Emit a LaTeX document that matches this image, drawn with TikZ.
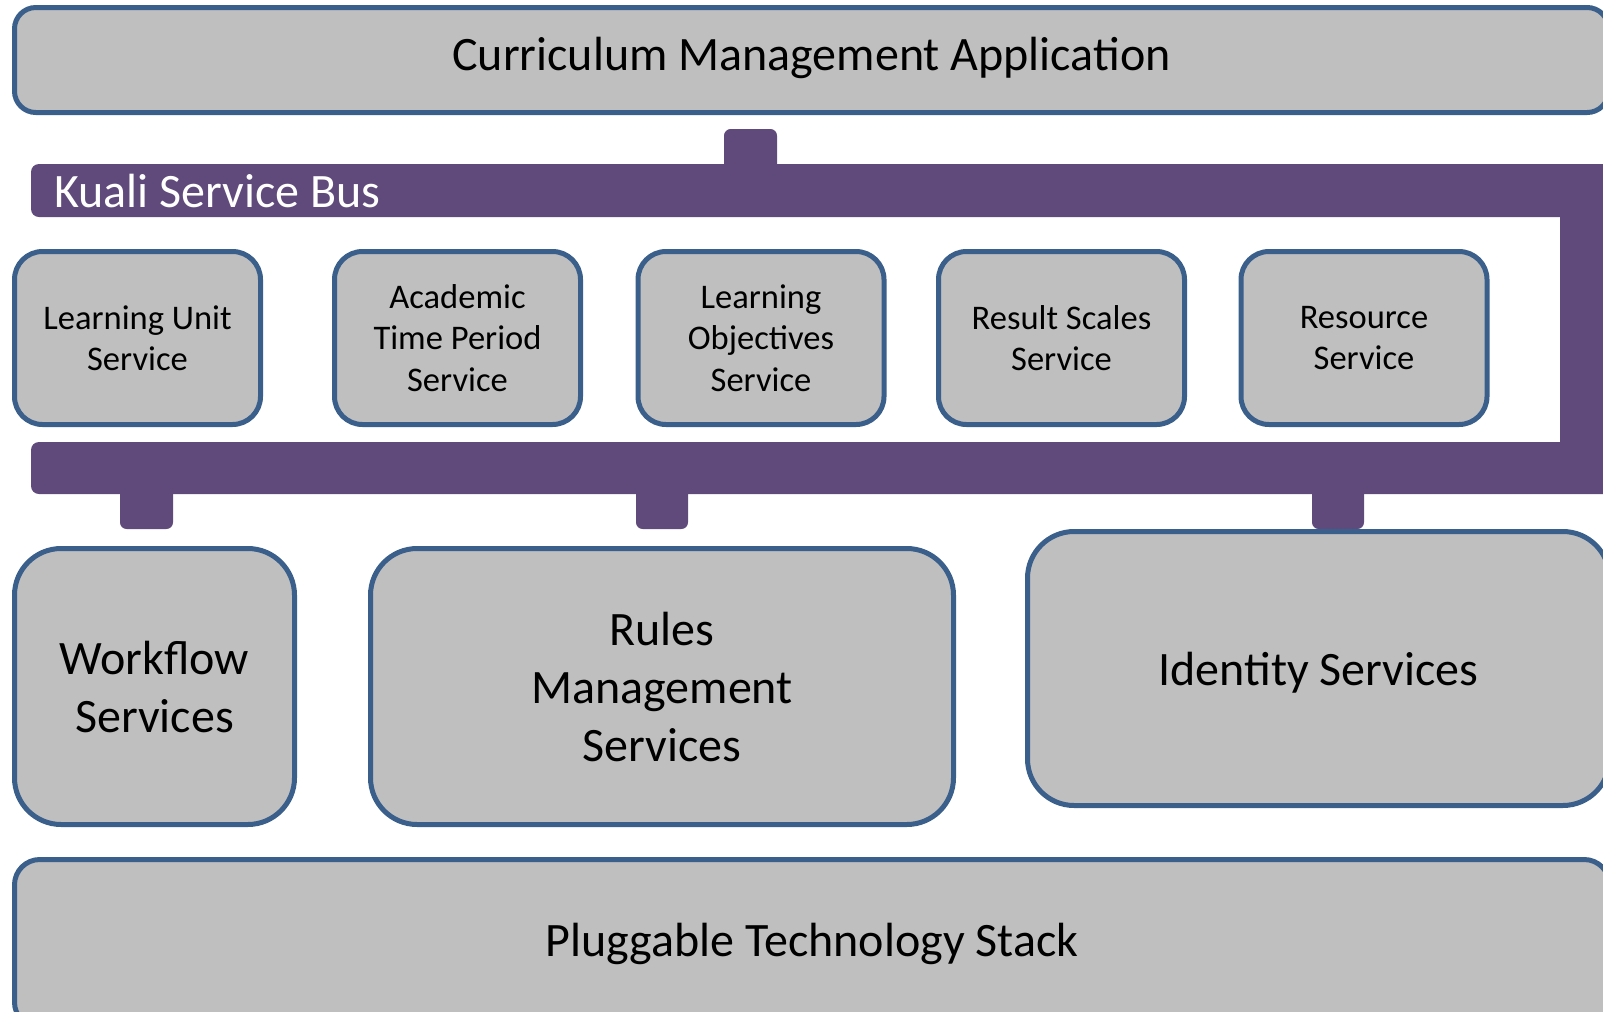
\documentclass[tikz,border=0pt]{standalone}
\usepackage{fontspec}
\setmainfont{Carlito}
\definecolor{boxgray}{HTML}{BFBFBF}
\definecolor{boxblue}{HTML}{3A5F8B}
\definecolor{busviolet}{HTML}{604A7B}
\begin{document}
\begin{tikzpicture}[x=0.75pt,y=-0.75pt,
  box/.style={draw=boxblue, fill=boxgray, line width=3.75pt, align=center, inner sep=0pt},
  svc/.style={box, rounded corners=21pt, minimum width=184.5pt, minimum height=129.75pt,
              font=\fontsize{25.9}{31.1}\selectfont},
  bigbox/.style={box, rounded corners=35pt, font=\fontsize{36}{43.5}\selectfont},
  wide/.style={box, font=\fontsize{36}{44}\selectfont},
  busfill/.style={fill=busviolet}]
\useasboundingbox (0,0) rectangle (1603,1011);
\clip (0,0) rectangle (1603,1011);

% stubs (connectors to the bus)
\fill[busfill, rounded corners=5pt] (724,129) rectangle (777,190);
\fill[busfill, rounded corners=5pt] (120,470) rectangle (173,529);
\fill[busfill, rounded corners=5pt] (636,470) rectangle (688,529);
\fill[busfill, rounded corners=5pt] (1312,470) rectangle (1364,529);

% bus
\fill[busfill, rounded corners=6pt] (31,164) rectangle (1700,217);
\fill[busfill] (1560,164) rectangle (1700,494);
\fill[busfill, rounded corners=6pt] (31,442) rectangle (1700,494);
\node[anchor=base west, text=white, inner sep=0pt, font=\fontsize{36}{40}\selectfont]
  (ksb) at (54,207) {Kuali Service Bus};

% top application
\node[wide, rounded corners=16pt, minimum width=1195.5pt, minimum height=78.75pt,
      text height=26pt, text depth=11pt]
  (cma) at (811.5,60) {Curriculum Management Application};

% services
\node[svc] (lus) at (137.5,338) {Learning Unit\\Service};
\node[svc] (atp) at (457.5,338) {Academic\\Time Period\\Service};
\node[svc] (los) at (761,338) {Learning\\Objectives\\Service};
\node[svc] (rss) at (1061.5,338) {Result Scales\\Service};
\node[svc] (res) at (1364,338) {Resource\\Service};

% second row
\node[bigbox, minimum width=210pt, minimum height=207pt] (wfs) at (154.5,686.5) {Workflow\\Services};
\node[bigbox, minimum width=437.25pt, minimum height=207pt] (rms) at (662,686.5) {Rules\\Management\\Services};
\node[bigbox, minimum width=436.5pt, minimum height=205.5pt, text height=32pt, text depth=7pt]
  (ids) at (1318.5,668.5) {Identity Services};

% bottom
\node[wide, rounded corners=19pt, minimum width=1196.25pt, minimum height=126pt]
  (pts) at (812,943.5) {Pluggable Technology Stack};
\end{tikzpicture}
\end{document}
